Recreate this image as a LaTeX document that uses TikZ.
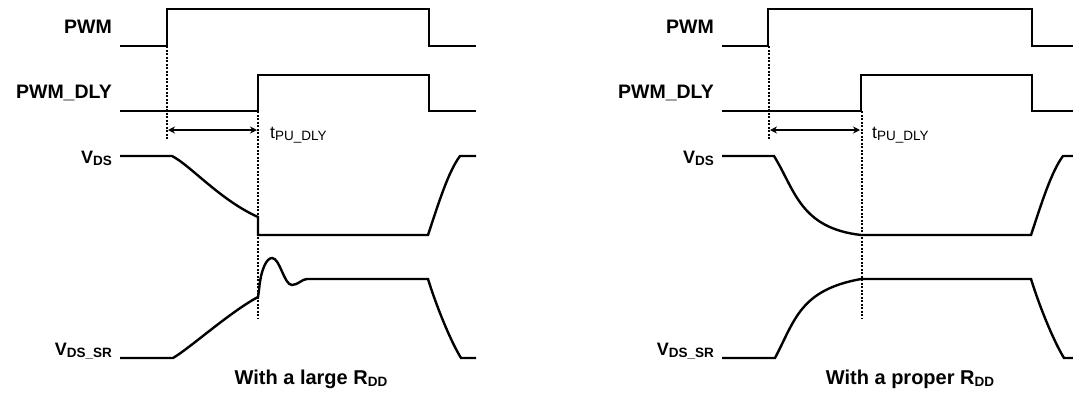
\documentclass[tikz,border=0pt]{standalone}
\usepackage{fontspec}
\setmainfont{Liberation Sans}
\usetikzlibrary{arrows.meta}
\newcommand{\sbs}[1]{\raisebox{-2.5pt}{\fontsize{13.5}{15}\selectfont #1}}
\begin{document}
\begin{tikzpicture}[x=1pt,y=-1pt,
  sig/.style={line width=2.4pt, line join=miter},
  guide/.style={line width=1.2pt, dash pattern=on 2pt off 1.5pt},
  dim/.style={line width=1.5pt, {Stealth[length=7pt,width=7pt]}-{Stealth[length=7pt,width=7pt]}},
  lbl/.style={anchor=base east, inner sep=0pt, font=\fontsize{19.5}{22}\selectfont\bfseries},
  lblv/.style={anchor=base east, inner sep=0pt, font=\fontsize{18}{20}\selectfont\bfseries},
  tl/.style={anchor=base west, inner sep=0pt, font=\fontsize{17.5}{20}\selectfont},
  ttl/.style={anchor=base, inner sep=0pt, font=\fontsize{20}{22}\selectfont\bfseries}]
\useasboundingbox (0,0) rectangle (1073,392);

% ---------------- left panel ----------------
\node[lbl]  (pwmL) at (112,33)  {PWM};
\node[lbl]  (dlyL) at (112,98)  {PWM\_DLY};
\node[lblv] (vdsL) at (112,163) {V\sbs{DS}};
\node[lblv] (vsrL) at (112,355) {V\sbs{DS\_SR}};

\draw[guide] (167,46) -- (167,139);
\draw[guide] (258,111) -- (258,319);

\draw[sig] (120,46) -- (167,46) -- (167,9) -- (429,9) -- (429,46) -- (476,46);
\draw[sig] (120,111) -- (258,111) -- (258,75) -- (429,75) -- (429,111) -- (476,111);

\coordinate (aL1) at (168,130);
\coordinate (aL2) at (257,130);
\draw[dim] (aL1) -- (aL2);
\node[tl] (tL) at (270,138) {t\sbs{PU\_DLY}};

\draw[sig] (120,156) -- (172,156) .. controls (190,165) and (220,200) .. (258,217)
  -- (258,235) -- (428,235) .. controls (438,205) and (448,172) .. (460,156) -- (476,156);

\draw[sig] (120,358) -- (173,358) .. controls (190,348) and (230,312) .. (258,297)
  -- (259,290) .. controls (261,268) and (267,258) .. (272,258)
  .. controls (280,258) and (284,285) .. (292,285)
  .. controls (298,285) and (302,279) .. (307,279) -- (428,279)
  .. controls (436,305) and (450,340) .. (461,358) -- (476,358);

\node[ttl] (capL) at (311,384) {With a large R\sbs{DD}};

% ---------------- right panel ----------------
\node[lbl]  (pwmR) at (714,33)  {PWM};
\node[lbl]  (dlyR) at (714,98)  {PWM\_DLY};
\node[lblv] (vdsR) at (714,163) {V\sbs{DS}};
\node[lblv] (vsrR) at (714,355) {V\sbs{DS\_SR}};

\draw[guide] (769,46) -- (769,139);
\draw[guide] (862,111) -- (862,319);

\draw[sig] (722,46) -- (768,46) -- (768,9) -- (1032,9) -- (1032,46) -- (1073,46);
\draw[sig] (722,111) -- (861,111) -- (861,75) -- (1032,75) -- (1032,111) -- (1073,111);

\coordinate (aR1) at (770,130);
\coordinate (aR2) at (860,130);
\draw[dim] (aR1) -- (aR2);
\node[tl] (tR) at (872,138) {t\sbs{PU\_DLY}};

\draw[sig] (722,156) -- (774,156) .. controls (795,190) and (800,228) .. (861,235)
  -- (1031,235) .. controls (1041,205) and (1051,172) .. (1063,156) -- (1073,156);

\draw[sig] (722,358) -- (775,358) .. controls (795,320) and (800,290) .. (861,279)
  -- (1031,279) .. controls (1039,305) and (1053,340) .. (1064,358) -- (1073,358);

\node[ttl] (capR) at (910,384) {With a proper R\sbs{DD}};
\end{tikzpicture}
\end{document}
